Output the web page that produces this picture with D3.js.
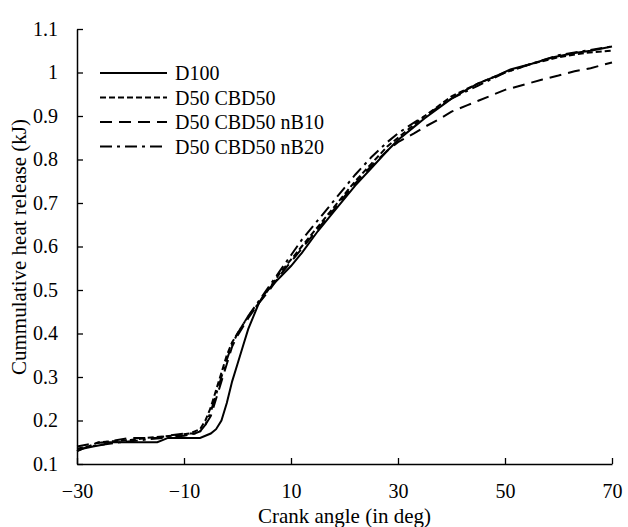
<!DOCTYPE html>
<html>
<head>
<meta charset="utf-8">
<script src="https://cdn.jsdelivr.net/npm/d3@7"></script>
<style>
  body { margin: 0; background: #fff; }
  svg text { font-family: "Liberation Serif"; }
</style>
</head>
<body>
<svg id="chart"></svg>
<script>
let width = 628
let height = 527
let margin = {top: 29, right: 16, bottom: 63, left: 77}
let serifFont = 'Liberation Serif'

// crank angle (deg) and cumulative heat release (kJ) per fuel
let angleD100 = [-30, -29, -27, -25, -24, -15, -14, -13, -7, -6, -5, -4, -3, -2, -1, 0, 1, 2, 3, 4, 5, 6, 8, 10, 12, 15, 18, 20, 22, 25, 28, 30, 33, 35, 40, 43, 45, 48, 51, 55, 59, 63, 66, 70]
let heatD100 = [0.13, 0.135, 0.14, 0.145, 0.15, 0.15, 0.155, 0.16, 0.16, 0.165, 0.17, 0.18, 0.2, 0.24, 0.29, 0.33, 0.37, 0.41, 0.44, 0.47, 0.49, 0.505, 0.53, 0.555, 0.585, 0.635, 0.68, 0.71, 0.74, 0.78, 0.82, 0.845, 0.875, 0.895, 0.94, 0.962, 0.975, 0.99, 1.007, 1.02, 1.035, 1.045, 1.05, 1.06]

let angleCBD50 = [-30, -28, -26, -20, -17, -12, -9, -8, -7, -6, -5, -4, -3, -2, -1, 0, 1, 2, 4, 6, 8, 10, 12, 15, 18, 20, 22, 25, 28, 30, 33, 35, 40, 45, 50, 55, 60, 65, 70]
let heatCBD50 = [0.135, 0.14, 0.15, 0.155, 0.16, 0.165, 0.17, 0.175, 0.18, 0.2, 0.23, 0.27, 0.31, 0.35, 0.38, 0.4, 0.42, 0.44, 0.47, 0.505, 0.54, 0.57, 0.6, 0.645, 0.69, 0.72, 0.75, 0.79, 0.83, 0.85, 0.88, 0.9, 0.945, 0.975, 1.0, 1.02, 1.035, 1.045, 1.05]

let angleNB10 = [-30, -28, -25, -20, -15, -13, -10, -8, -7, -6, -5, -4, -3, -2, -1, 0, 1, 2, 4, 6, 8, 10, 12, 15, 18, 20, 22, 25, 28, 30, 33, 35, 38, 40, 43, 45, 48, 50, 53, 57, 60, 63, 66, 70]
let heatNB10 = [0.14, 0.145, 0.15, 0.16, 0.16, 0.165, 0.17, 0.17, 0.175, 0.19, 0.21, 0.25, 0.29, 0.33, 0.37, 0.395, 0.415, 0.435, 0.47, 0.5, 0.535, 0.565, 0.595, 0.64, 0.685, 0.715, 0.745, 0.785, 0.82, 0.84, 0.86, 0.875, 0.895, 0.91, 0.925, 0.935, 0.95, 0.96, 0.97, 0.984, 0.993, 1.003, 1.01, 1.023]

let angleNB20 = [-30, -28, -25, -22, -18, -14, -10, -8, -7, -6, -5, -4, -3, -2, -1, 0, 1, 2, 4, 6, 8, 10, 12, 15, 18, 20, 22, 25, 28, 30, 33, 35, 40, 45, 50, 55, 60, 65, 70]
let heatNB20 = [0.13, 0.14, 0.145, 0.15, 0.155, 0.16, 0.165, 0.17, 0.175, 0.19, 0.22, 0.26, 0.3, 0.34, 0.375, 0.4, 0.42, 0.44, 0.475, 0.51, 0.545, 0.58, 0.615, 0.66, 0.705, 0.735, 0.765, 0.805, 0.84, 0.86, 0.885, 0.9, 0.94, 0.97, 1.0, 1.02, 1.04, 1.05, 1.06]

let seriesNames = ["D100", "D50 CBD50", "D50 CBD50 nB10", "D50 CBD50 nB20"]
let seriesDash = ["none", "6,3", "12,7", "12,5,3,5"]

let xTicks = [-30, -10, 10, 30, 50, 70]
let yTicks = [0.1, 0.2, 0.3, 0.4, 0.5, 0.6, 0.7, 0.8, 0.9, 1, 1.1]

let series = [
  {name: seriesNames[0], x: angleD100, y: heatD100, dash: seriesDash[0]},
  {name: seriesNames[1], x: angleCBD50, y: heatCBD50, dash: seriesDash[1]},
  {name: seriesNames[2], x: angleNB10, y: heatNB10, dash: seriesDash[2]},
  {name: seriesNames[3], x: angleNB20, y: heatNB20, dash: seriesDash[3]}
]

let svg = d3.select('#chart')
  .attr('width', width)
  .attr('height', height)

let xScale = d3.scaleLinear()
  .domain([-30, 70])
  .range([margin.left, width - margin.right])

let yScale = d3.scaleLinear()
  .domain([0.1, 1.1])
  .range([height - margin.bottom, margin.top])

// axes, ticks pointing inward
let xAxis = d3.axisBottom(xScale)
  .tickValues(xTicks)
  .tickSizeInner(-6)
  .tickSizeOuter(0)
  .tickPadding(20)
  .tickFormat(d3.format('d'))

let yAxis = d3.axisLeft(yScale)
  .tickValues(yTicks)
  .tickSizeInner(-6)
  .tickSizeOuter(0)
  .tickPadding(19)
  .tickFormat((d) => d === 1 ? '1' : d3.format('.1f')(d))

svg.append('g')
  .attr('transform', 'translate(0,' + (height - margin.bottom) + ')')
  .call(xAxis)

svg.append('g')
  .attr('transform', 'translate(' + margin.left + ',0)')
  .call(yAxis)

svg.selectAll('g').attr('font-family', serifFont)
svg.selectAll('.domain').attr('stroke', '#000').attr('stroke-width', 1.5)
svg.selectAll('.tick line').attr('stroke', '#000').attr('stroke-width', 1.3)
svg.selectAll('.tick text')
  .attr('fill', '#000')
  .style('font-family', serifFont)
  .style('font-size', '20px')

// axis titles
svg.append('text')
  .attr('x', (margin.left + width - margin.right) / 2)
  .attr('y', 523)
  .attr('text-anchor', 'middle')
  .style('font-family', serifFont)
  .style('font-size', '21px')
  .text('Crank angle (in deg)')

svg.append('text')
  .attr('transform', 'translate(26,' + 247 + ') rotate(-90)')
  .attr('text-anchor', 'middle')
  .style('font-family', serifFont)
  .style('font-size', '21px')
  .text('Cummulative heat release (kJ)')

// curves
let line = d3.line()
  .x((d) => xScale(d[0]))
  .y((d) => yScale(d[1]))

series.forEach((s) => {
  svg.append('path')
    .datum(d3.zip(s.x, s.y))
    .attr('fill', 'none')
    .attr('stroke', '#000')
    .attr('stroke-width', 2)
    .attr('stroke-dasharray', s.dash)
    .attr('d', line)
})

// legend
let legend = svg.append('g')
series.forEach((s, i) => {
  let y = 73 + i * 24.5
  legend.append('line')
    .attr('x1', 100)
    .attr('x2', 167)
    .attr('y1', y)
    .attr('y2', y)
    .attr('stroke', '#000')
    .attr('stroke-width', 2)
    .attr('stroke-dasharray', s.dash)
  legend.append('text')
    .attr('x', 175)
    .attr('y', y + 7)
    .style('font-family', serifFont)
    .style('font-size', '20px')
    .text(s.name)
})
</script>
</body>
</html>
